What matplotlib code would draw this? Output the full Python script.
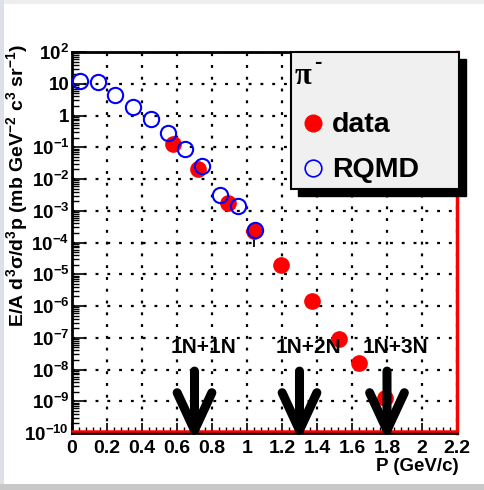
import numpy as np
import matplotlib
matplotlib.use("Agg")
import matplotlib.pyplot as plt
from matplotlib.patches import Rectangle
from matplotlib.lines import Line2D
from matplotlib.ticker import FixedLocator, FuncFormatter, MultipleLocator, LogLocator, NullFormatter

plt.rcParams['font.family'] = ['Liberation Sans', 'DejaVu Sans']
plt.rcParams['font.weight'] = 'bold'
plt.rcParams['mathtext.fontset'] = 'custom'
plt.rcParams['mathtext.rm'] = 'Liberation Sans:bold'
plt.rcParams['mathtext.bf'] = 'Liberation Sans:bold'
plt.rcParams['mathtext.it'] = 'Liberation Sans:bold'
plt.rcParams['mathtext.default'] = 'bf'

# pi- spectrum: measured points
p_data = [0.58, 0.72, 0.89, 1.04, 1.195, 1.37, 1.525, 1.64, 1.79]
y_data = [0.124, 0.0207, 1.7e-3, 2.3e-4, 1.95e-5, 1.4e-6, 8.9e-8, 1.6e-8, 1.25e-9]
err_lo = [0, 0, 0, 1.6e-4, 0, 0, 0, 0, 0]
err_hi = [0, 0, 0, 0.5e-4, 0, 0, 0, 0, 0]

# RQMD calculation
p_rqmd = [0.046, 0.146, 0.245, 0.346, 0.45, 0.551, 0.648, 0.745, 0.847, 0.948, 1.045]
y_rqmd = [12.2, 11.1, 4.5, 1.8, 0.76, 0.29, 0.086, 0.026, 3.1e-3, 1.44e-3, 2.5e-4]

# kinematic limits for nucleon-nucleon collisions
thr_labels = ['1N+1N', '1N+2N', '1N+3N']
thr_p = [0.70, 1.30, 1.80]

W, H = 485, 490
fig = plt.figure(figsize=(W / 100, H / 100), dpi=100)
ax = fig.add_axes([72 / W, 1 - 433 / H, (457 - 72) / W, (433 - 52) / H])

ax.set_yscale('log')
ax.set_xlim(0, 2.2)
ax.set_ylim(1e-10, 1e2)

ax.errorbar(p_data, y_data, yerr=[err_lo, err_hi], fmt='o', color='red',
            ms=11, mec='red', ecolor='black', elinewidth=1.3, capsize=0, zorder=3)
ax.plot(p_rqmd, y_rqmd, 'o', mfc='none', mec='blue', mew=1.5, ms=11, zorder=4)

# ticks / grid
ax.xaxis.set_major_locator(MultipleLocator(0.2))
ax.xaxis.set_minor_locator(MultipleLocator(0.04))
ax.xaxis.set_major_formatter(FuncFormatter(lambda v, pos: '%g' % round(v, 2)))
ax.yaxis.set_major_locator(FixedLocator([10.0 ** k for k in range(-10, 3)]))
ax.yaxis.set_minor_locator(LogLocator(base=10, subs=np.arange(2, 10), numticks=30))
ax.yaxis.set_minor_formatter(NullFormatter())

def ylab(v, pos):
    k = int(round(np.log10(v)))
    if k == 0:
        return '1'
    if k == 1:
        return '10'
    return r'$\mathbf{10^{%d}}$' % k

ax.yaxis.set_major_formatter(FuncFormatter(ylab))
ax.tick_params(which='both', direction='in', top=False, right=False, colors='black')
ax.tick_params(which='major', axis='y', length=10, width=1.2, labelsize=13.5, pad=2)
ax.tick_params(which='minor', axis='y', length=5, width=1)
ax.tick_params(which='major', axis='x', length=7, width=1.2, labelsize=14, pad=5)
ax.tick_params(which='minor', axis='x', length=4, width=1)
ax.grid(True, which='major', color='black', linestyle=(0, (1.3, 4)), lw=1.6)

for s in ['left', 'top', 'bottom']:
    ax.spines[s].set_linewidth(2)
ax.spines['right'].set_color('red')
ax.spines['right'].set_linewidth(2.5)
ax.plot([0, 1], [0.004, 0.004], transform=ax.transAxes, color='red', lw=1.8,
        clip_on=False, zorder=5)

# threshold arrows
for lab, p in zip(thr_labels, thr_p):
    ax.annotate('', xy=(p, 10 ** -10.25), xytext=(p, 10 ** -8.05),
                arrowprops=dict(arrowstyle='->, head_length=27, head_width=12.5',
                                mutation_scale=1, lw=6.5, color='black',
                                shrinkA=0, shrinkB=0),
                annotation_clip=False, zorder=6)
    ax.text(p + 0.05, 10 ** -7.32, lab, ha='center', va='center', fontsize=15,
            fontweight='bold', zorder=6)

fig.text(17 / W, 1 - 44 / H, r'E/A d$^{3}$σ/d$^{3}$p (mb GeV$^{-2}$ c$^{3}$ sr$^{-1}$)',
         rotation=90, ha='center', va='top', fontsize=14, fontweight='bold')
fig.text(459 / W, 1 - 466 / H, 'P (GeV/c)', ha='right', va='center',
         fontsize=13.5, fontweight='bold')

# legend box with solid shadow
bx0, by0, bx1, by1 = 291, 52, 459, 189
fig.add_artist(Rectangle(((bx0 + 7) / W, 1 - (by1 + 7) / H), (bx1 - bx0) / W, (by1 - by0) / H,
                         transform=fig.transFigure, facecolor='black', edgecolor='black', zorder=8))
fig.add_artist(Rectangle((bx0 / W, 1 - by1 / H), (bx1 - bx0) / W, (by1 - by0) / H,
                         transform=fig.transFigure, facecolor='#f0f0f0', edgecolor='black',
                         lw=1.5, zorder=9))
fig.text(295 / W, 1 - 76 / H, 'π', family='Liberation Serif', fontweight='bold',
         fontsize=22, ha='left', va='center', zorder=10)
fig.text(314 / W, 1 - 62 / H, '-', fontweight='bold', fontsize=16, ha='left',
         va='center', zorder=10)
fig.add_artist(Line2D([313 / W], [1 - 123 / H], marker='o', ms=12, color='red',
                      transform=fig.transFigure, zorder=10))
fig.add_artist(Line2D([313 / W], [1 - 168 / H], marker='o', ms=12, mfc='none', mec='blue',
                      mew=1.2, transform=fig.transFigure, zorder=10))
fig.text(332 / W, 1 - 125 / H, 'data', fontsize=20.5, fontweight='bold', ha='left',
         va='center', zorder=10)
fig.text(332 / W, 1 - 170 / H, 'RQMD', fontsize=20.5, fontweight='bold', ha='left',
         va='center', zorder=10)

# page border strips
fig.add_artist(Rectangle((0, 1 - 4 / H), 1, 4 / H, transform=fig.transFigure,
                         facecolor='#eeeeee', edgecolor='none', zorder=0))
fig.add_artist(Rectangle((0, 0), 4 / W, 1, transform=fig.transFigure,
                         facecolor='#dde0e8', edgecolor='none', zorder=0))
fig.add_artist(Rectangle((0, 0), 1, 6 / H, transform=fig.transFigure,
                         facecolor='#c8c8c8', edgecolor='none', zorder=0))

fig.savefig('out.png', dpi=100)
